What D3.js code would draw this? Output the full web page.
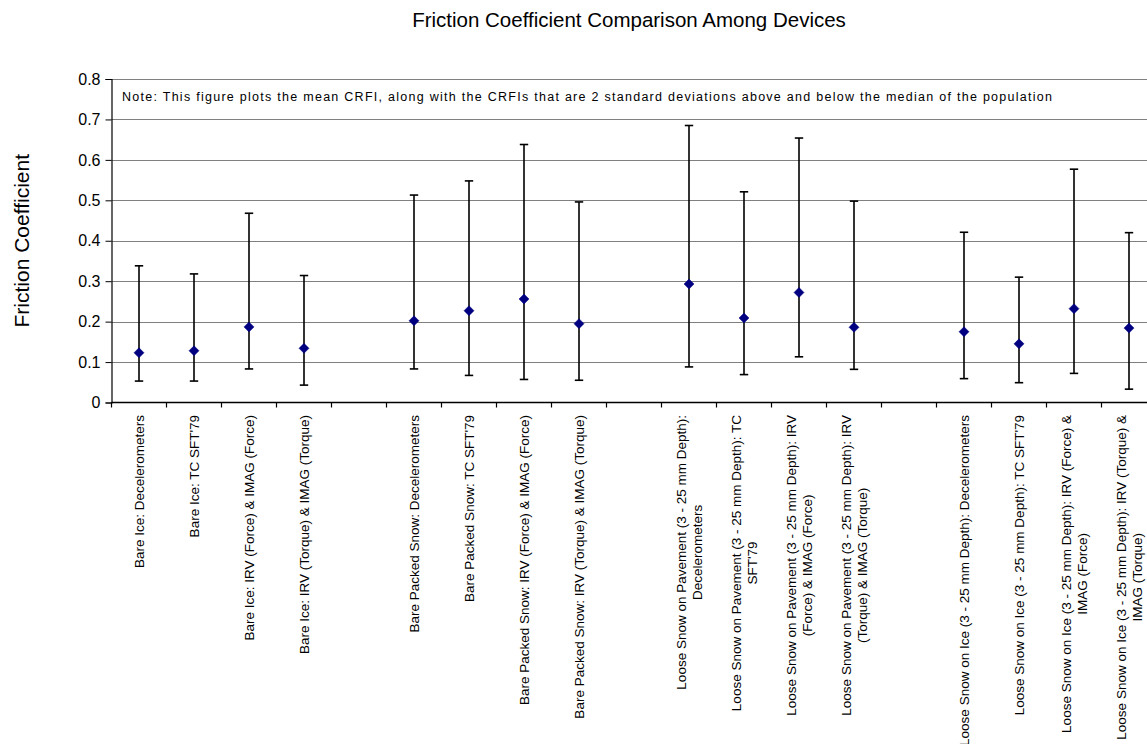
<!DOCTYPE html>
<html>
<head>
<meta charset="utf-8">
<script src="https://cdn.jsdelivr.net/npm/d3@7"></script>
<style>
  html, body { margin: 0; padding: 0; background: #fff; overflow: hidden; }
  svg { display: block; font-family: Arial, "Liberation Sans", sans-serif; }
</style>
</head>
<body>
<svg id="chart" width="1147" height="744"></svg>
<script>
// ---- Data ----
const title = "Friction Coefficient Comparison Among Devices";
const yLabel = "Friction Coefficient";
const note = "Note: This figure plots the mean CRFI, along with the CRFIs that are 2 standard deviations above and below the median of the population";

// Categories (empty strings are the blank gap slots between groups)
const categories = [
  "Bare Ice: Decelerometers",
  "Bare Ice: TC SFT'79",
  "Bare Ice: IRV (Force)  & IMAG (Force)",
  "Bare Ice: IRV (Torque) & IMAG (Torque)",
  "",
  "Bare Packed Snow: Decelerometers",
  "Bare Packed Snow: TC SFT'79",
  "Bare Packed Snow: IRV (Force) & IMAG (Force)",
  "Bare Packed Snow: IRV (Torque) & IMAG (Torque)",
  "",
  "Loose Snow on  Pavement (3 - 25 mm Depth):\nDecelerometers",
  "Loose Snow on Pavement (3 - 25 mm Depth): TC\nSFT'79",
  "Loose Snow on Pavement (3 - 25 mm Depth): IRV\n(Force) & IMAG (Force)",
  "Loose Snow on Pavement (3 - 25 mm Depth): IRV\n(Torque) & IMAG (Torque)",
  "",
  "Loose Snow on Ice (3 - 25 mm Depth): Decelerometers",
  "Loose Snow on Ice (3 - 25 mm Depth): TC SFT'79",
  "Loose Snow on Ice (3 - 25 mm Depth): IRV (Force) &\nIMAG (Force)",
  "Loose Snow on Ice (3 - 25 mm Depth): IRV (Torque) &\nIMAG (Torque)"
];

const meanValues  = [0.123, 0.128, 0.187, 0.134, null, 0.202, 0.227, 0.256, 0.195, null, 0.293, 0.209, 0.272, 0.186, null, 0.175, 0.145, 0.232, 0.184];
const upperValues = [0.338, 0.318, 0.468, 0.314, null, 0.513, 0.548, 0.638, 0.496, null, 0.685, 0.521, 0.654, 0.498, null, 0.421, 0.310, 0.577, 0.420];
const lowerValues = [0.053, 0.053, 0.083, 0.043, null, 0.083, 0.067, 0.057, 0.055, null, 0.088, 0.069, 0.113, 0.082, null, 0.059, 0.049, 0.072, 0.033];

const yTicks = [0, 0.1, 0.2, 0.3, 0.4, 0.5, 0.6, 0.7, 0.8];

// ---- Layout ----
const svg = d3.select("#chart");
const plotLeft = 111.5, bandW = 55;
const plotTop = 79, plotBottom = 402.5;
const plotRight = plotLeft + bandW * categories.length;

const x = d3.scaleBand()
  .domain(d3.range(categories.length))
  .range([plotLeft, plotRight])
  .paddingInner(0).paddingOuter(0);

const y = d3.scaleLinear().domain([0, 0.8]).range([plotBottom, plotTop]);

// Title
svg.append("text")
  .attr("x", 629).attr("y", 27)
  .attr("text-anchor", "middle")
  .attr("font-size", "20.5px")
  .attr("fill", "#000")
  .text(title);

// Y label
svg.append("text")
  .attr("transform", `translate(29, ${(plotTop + plotBottom) / 2}) rotate(-90)`)
  .attr("text-anchor", "middle")
  .attr("font-size", "21px")
  .attr("fill", "#000")
  .text(yLabel);

// Gridlines
svg.append("g")
  .selectAll("line")
  .data(yTicks.filter(d => d > 0))
  .join("line")
  .attr("x1", plotLeft).attr("x2", plotRight)
  .attr("y1", d => Math.round(y(d)) + 0.5)
  .attr("y2", d => Math.round(y(d)) + 0.5)
  .attr("stroke", "#808080")
  .attr("stroke-width", 1);

// Y axis
const yAxis = d3.axisLeft(y).tickValues(yTicks)
  .tickFormat(d => d === 0 ? "0" : d3.format(".1f")(d))
  .tickSize(6).tickPadding(5);
const gy = svg.append("g").attr("transform", `translate(${plotLeft},0)`).call(yAxis);
gy.select(".domain").attr("stroke", "#000").attr("stroke-width", 1.2);
gy.selectAll(".tick line").attr("stroke", "#000");
gy.selectAll(".tick text").attr("font-size", "16px").attr("fill", "#000")
  .attr("font-family", "Arial, 'Liberation Sans', sans-serif");

// X axis line + boundary tick marks
svg.append("line")
  .attr("x1", plotLeft).attr("x2", plotRight)
  .attr("y1", plotBottom).attr("y2", plotBottom)
  .attr("stroke", "#000").attr("stroke-width", 1.5);
svg.append("g")
  .selectAll("line")
  .data(d3.range(categories.length + 1))
  .join("line")
  .attr("x1", i => (i < categories.length ? x(i) : plotRight))
  .attr("x2", i => (i < categories.length ? x(i) : plotRight))
  .attr("y1", plotBottom).attr("y2", plotBottom + 5)
  .attr("stroke", "#000").attr("stroke-width", 1.2);

// Note
svg.append("text")
  .attr("x", 122).attr("y", 101)
  .attr("font-size", "12.5px")
  .attr("textLength", 930)
  .attr("lengthAdjust", "spacing")
  .attr("fill", "#000")
  .text(note);

// Category labels
const labelFont = 13.5, lineH = 16;
const labelG = svg.append("g");
categories.forEach((label, i) => {
  if (!label) return;
  const lines = label.split("\n");
  const cx = x(i) + x.bandwidth() / 2;
  const t = labelG.append("text")
    .attr("transform", `translate(${cx}, 415) rotate(-90)`)
    .attr("font-size", labelFont + "px")
    .attr("fill", "#000")
    .attr("text-anchor", "end");
  const spans = lines.map((ln, k) => t.append("tspan")
    .attr("x", 0)
    .attr("y", (k - (lines.length - 1) / 2) * lineH + labelFont * 0.36)
    .text(ln));
  const widths = spans.map(s => s.node().getComputedTextLength());
  const maxW = d3.max(widths);
  spans.forEach((s, k) => s.attr("x", -(maxW - widths[k]) / 2));
});

// Error bars
const idx = d3.range(categories.length).filter(i => meanValues[i] != null);
const capHalf = 4.2;
const eb = svg.append("g").attr("stroke", "#000").attr("stroke-width", 1.6);
idx.forEach(i => {
  const cx = x(i) + x.bandwidth() / 2;
  eb.append("line").attr("x1", cx).attr("x2", cx).attr("y1", y(upperValues[i])).attr("y2", y(lowerValues[i]));
  eb.append("line").attr("x1", cx - capHalf).attr("x2", cx + capHalf).attr("y1", y(upperValues[i])).attr("y2", y(upperValues[i]));
  eb.append("line").attr("x1", cx - capHalf).attr("x2", cx + capHalf).attr("y1", y(lowerValues[i])).attr("y2", y(lowerValues[i]));
});

// Diamond markers
const r = 5;
svg.append("g")
  .selectAll("path")
  .data(idx)
  .join("path")
  .attr("d", i => {
    const cx = x(i) + x.bandwidth() / 2, cy = y(meanValues[i]);
    return `M${cx},${cy - r}L${cx + r},${cy}L${cx},${cy + r}L${cx - r},${cy}Z`;
  })
  .attr("fill", "#000080")
  .attr("stroke", "#000080")
  .attr("stroke-width", 0.5);
</script>
</body>
</html>
